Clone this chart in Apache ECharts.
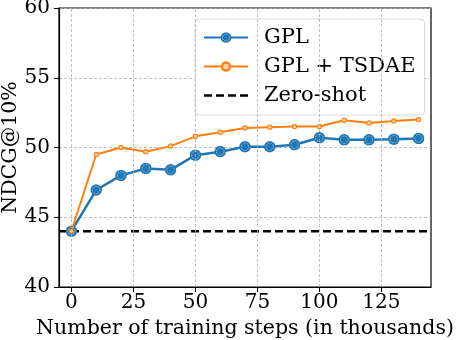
<!DOCTYPE html>
<html><head><meta charset="utf-8">
<script src="https://cdn.jsdelivr.net/npm/echarts@6/dist/echarts.min.js"></script>
<style>html,body{margin:0;padding:0;background:#fff}#c{width:456px;height:340px}</style>
</head><body><div id="c"></div>
<script>
const steps = [0,10,20,30,40,50,60,70,80,90,100,110,120,130,140];
const gpl = [44.0,46.95,48.0,48.5,48.4,49.45,49.7,50.05,50.05,50.2,50.7,50.55,50.55,50.6,50.65];
const gplTsdae = [44.0,49.5,50.0,49.7,50.1,50.8,51.1,51.4,51.45,51.5,51.5,51.95,51.75,51.9,52.0];
const zeroShot = 44.0;
const xTicks = [0,25,50,75,100,125];
const yTicks = [40,45,50,55,60];
const xRange = [-5,145];

const FONT = 'DejaVu Serif';
const blueSym = 'image://data:image/svg+xml;utf8,' + encodeURIComponent('<svg xmlns="http://www.w3.org/2000/svg" width="24" height="24"><circle cx="12" cy="12" r="11.5" fill="#1f77b4"/><circle cx="12" cy="12" r="7.5" fill="none" stroke="#cfe3f3" stroke-width="1.4" stroke-dasharray="2 1.5"/></svg>');
const orangeSym = 'image://data:image/svg+xml;utf8,' + encodeURIComponent('<svg xmlns="http://www.w3.org/2000/svg" width="24" height="24"><circle cx="12" cy="12" r="11" fill="#ff7f0e"/><circle cx="12" cy="12" r="6" fill="#ffd6ae"/></svg>');
const dashIcon = 'path://M0,0h8v2.5h-8z M12,0h8v2.5h-8z M24,0h8v2.5h-8z M36,0h8v2.5h-8z';

const chart = echarts.init(document.getElementById('c'), null, {renderer:'canvas'});
chart.setOption({
  animation:false,
  backgroundColor:'#fff',
  textStyle:{fontFamily:FONT},
  grid:{left:59,right:25,top:8,bottom:53,outerBoundsMode:'none',containLabel:false,show:true,borderColor:'#000',borderWidth:1.2,backgroundColor:'transparent'},
  legend:{
    orient:'vertical', left:195, top:19, itemWidth:44, itemHeight:14, itemGap:8,
    padding:[8,9,9,8], backgroundColor:'rgba(255,255,255,0.85)', borderColor:'#d8d8d8', borderWidth:1, borderRadius:4,
    textStyle:{fontFamily:FONT,fontSize:21,color:'#000',padding:[0,0,0,11]},
    data:['GPL','GPL + TSDAE',{name:'Zero-shot',icon:dashIcon,itemStyle:{color:'#000'}}]
  },
  xAxis:{
    type:'value', min:xRange[0], max:xRange[1],
    name:'Number of training steps (in thousands)', nameLocation:'middle', nameGap:31, nameMoveOverlap:false,
    nameTextStyle:{fontFamily:FONT,fontSize:20.5,color:'#000'},
    axisLine:{show:true,onZero:false,lineStyle:{color:'#000',width:1.2}},
    axisTick:{show:true,length:5,lineStyle:{color:'#000'},customValues:xTicks},
    axisLabel:{fontFamily:FONT,fontSize:20,color:'#000',margin:6,customValues:xTicks},
    splitLine:{show:false}
  },
  yAxis:{
    type:'value', min:40, max:60, interval:5,
    name:'NDCG@10%', nameLocation:'middle', nameGap:38, nameMoveOverlap:false,
    nameTextStyle:{fontFamily:FONT,fontSize:20.5,color:'#000'},
    axisLine:{show:true,onZero:false,lineStyle:{color:'#000',width:1.2}},
    axisTick:{show:true,length:5,lineStyle:{color:'#000'}},
    axisLabel:{fontFamily:FONT,fontSize:20,color:'#000',margin:9},
    splitLine:{show:true,lineStyle:{color:'#b0b0b0',type:[3,2],width:0.8}}
  },
  series:[
    {name:'grid', type:'line', data:[], silent:true, legendHoverLink:false,
     markLine:{silent:true,symbol:'none',label:{show:false},
       lineStyle:{color:'#b0b0b0',type:[3,2],width:0.8},
       data:xTicks.map(v=>({xAxis:v}))}},
    {name:'Zero-shot', type:'line', data:[[xRange[0],zeroShot],[xRange[1],zeroShot]], symbol:'none',
     lineStyle:{color:'#000',width:2.5,type:[8,4]}, itemStyle:{color:'#000'}, z:3},
    {name:'GPL', type:'line', data:steps.map((s,i)=>[s,gpl[i]]), symbol:blueSym, symbolSize:12,
     lineStyle:{color:'#1f77b4',width:2.5}, itemStyle:{color:'#1f77b4'}, z:4},
    {name:'GPL + TSDAE', type:'line', data:steps.map((s,i)=>[s,gplTsdae[i]]), symbol:orangeSym, symbolSize:6,
     lineStyle:{color:'#ff7f0e',width:2}, itemStyle:{color:'#ff7f0e'}, z:5}
  ]
});
</script></body></html>
